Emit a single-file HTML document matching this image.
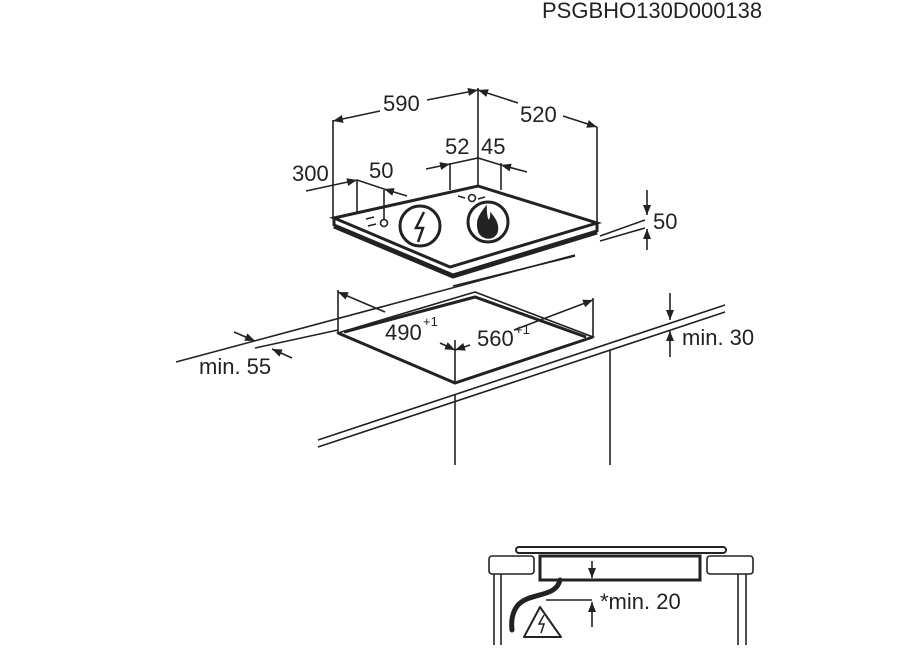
<!DOCTYPE html>
<html><head><style>
html,body{margin:0;padding:0;background:#fff}
svg{display:block}
text{font-family:"Liberation Sans",Arial,sans-serif;fill:#222}
</style></head><body>
<svg width="900" height="650" viewBox="0 0 900 650" xmlns="http://www.w3.org/2000/svg">
<defs>
<marker id="a" viewBox="0 0 10 10" refX="10" refY="5" markerWidth="10" markerHeight="10" orient="auto-start-reverse" markerUnits="userSpaceOnUse"><path d="M0,1 L10,5 L0,9 z" fill="#222"/></marker>
</defs>
<text x="542" y="18" font-size="22">PSGBHO130D000138</text>
<g stroke="#222" fill="none" stroke-width="1.6">
<path d="M334,226 L453,276 L597,232" stroke-width="5"/>
<path d="M334,218 L478,186 L597,223 L450,267 Z" fill="#fff" stroke-width="3"/>
<path d="M334,218 L334,226 M597,223 L597,232" stroke-width="3"/>
<path d="M333,120 V218 M478,88 V186 M597,127 V223"/>
<path d="M333,121 L380,111" marker-start="url(#a)"/>
<path d="M427,100 L478,90" marker-end="url(#a)"/>
<path d="M478,90 L518,103" marker-start="url(#a)"/>
<path d="M563,116 L597,127" marker-end="url(#a)"/>
<path d="M450,163 V190 M501,163 V190"/>
<path d="M426,169 L450,164" marker-end="url(#a)"/>
<path d="M450,164 L478,158 L501,165"/>
<path d="M527,172 L501,165" marker-end="url(#a)"/>
<path d="M357,180 V212 M384,190 V220"/>
<path d="M306,191 L357,180" marker-end="url(#a)"/>
<path d="M357,180 L384,189"/>
<path d="M407,196 L384,189" marker-end="url(#a)"/>
<path d="M600,236 L645,220 M600,241 L645,228"/>
<path d="M647,190 V215" marker-end="url(#a)"/>
<path d="M647,250 V229" marker-end="url(#a)"/>
<path d="M366,219 l8,-2 M368,226 l8,-2 M458,196 l7,2 M478,199 l7,-2"/>
<circle cx="384" cy="223" r="3.5"/>
<circle cx="472" cy="198" r="3.5"/>
<circle cx="420" cy="226" r="20" stroke-width="3"/>
<circle cx="488" cy="222" r="20" stroke-width="3"/>
<path d="M424,212 L416,228 L423,228 L418,242" stroke-width="2.5"/>
<path d="M486,207 C478,217 476,222 479,232 C483,240 494,240 497,232 C499,224 494,218 491,214 C491,222 486,225 486,207 Z" fill="#222"/>
<path d="M453,286 L575,256"/>
<path d="M176,362 L575,255"/>
<path d="M255,348 L338,330"/>
<path d="M338,333 L475,292 L593,337 L455,383 Z"/>
<path d="M344,332 L475,297 L586,337" stroke-width="3"/>
<path d="M338,333 L455,383 L593,337" stroke-width="3"/>
<path d="M318,440 L725,305 M318,447 L725,312"/>
<path d="M455,395 V465 M610,350 V465"/>
<path d="M338,290 V333 M593,298 V337 M455,340 V383"/>
<path d="M385,312 L338,292" marker-end="url(#a)"/>
<path d="M514,330 L593,300" marker-end="url(#a)"/>
<path d="M440,343 L455,350" marker-end="url(#a)"/>
<path d="M470,345 L455,350" marker-end="url(#a)"/>
<path d="M234,332 L255,341" marker-end="url(#a)"/>
<path d="M292,358 L272,349" marker-end="url(#a)"/>
<path d="M670,293 V320" marker-end="url(#a)"/>
<path d="M670,357 V331" marker-end="url(#a)"/>
<rect x="516" y="547" width="210" height="6" rx="3" stroke-width="2"/>
<rect x="489" y="556" width="45" height="18" rx="3"/>
<rect x="707" y="556" width="46" height="18" rx="3"/>
<rect x="540" y="556" width="160" height="24" stroke-width="3"/>
<path d="M494,574 V645 M501,574 V645 M738,574 V645 M746,574 V645"/>
<path d="M546,600 H592"/>
<path d="M592,561 V578" marker-end="url(#a)"/>
<path d="M592,627 V602" marker-end="url(#a)"/>
<path d="M560,580 C556,598 530,592 518,605 C512,612 511,622 512,630" stroke-width="5" stroke-linecap="round"/>
<path d="M540,607 L524,637 L561,637 Z" stroke-width="2" stroke-linejoin="round"/>
<path d="M544,615 L539,624 L544,624 L541,633" stroke-width="1.5"/>
</g>
<text x="383" y="111" font-size="22">590</text>
<text x="520" y="122" font-size="22">520</text>
<text x="445" y="154" font-size="22">52</text>
<text x="481" y="154" font-size="22">45</text>
<text x="292" y="181" font-size="22">300</text>
<text x="369" y="178" font-size="22">50</text>
<text x="653" y="229" font-size="22">50</text>
<text x="385" y="340" font-size="22">490</text>
<text x="423" y="326" font-size="13">+1</text>
<text x="477" y="346" font-size="22">560</text>
<text x="515" y="334" font-size="13">+1</text>
<text x="199" y="374" font-size="22">min. 55</text>
<text x="682" y="345" font-size="22">min. 30</text>
<text x="600" y="609" font-size="22">*min. 20</text>
</svg>
</body></html>
